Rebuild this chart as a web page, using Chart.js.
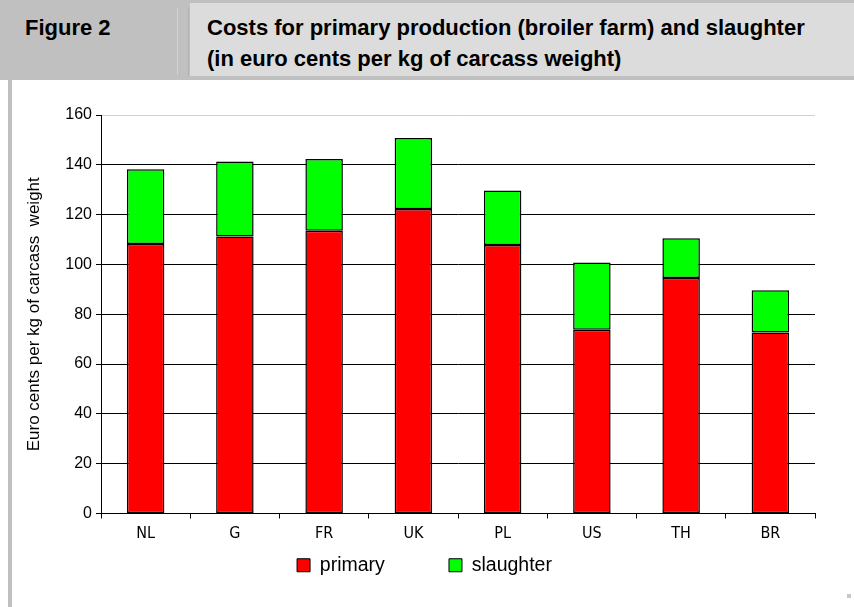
<!DOCTYPE html>
<html lang="en">
<head>
  <meta charset="UTF-8" />
  <title>Figure 2 - Costs for primary production and slaughter</title>
  <script src="https://cdn.jsdelivr.net/npm/chart.js"></script>
  <style>
    * { margin: 0; padding: 0; box-sizing: border-box; }
    html, body {
      width: 854px;
      height: 607px;
      background: #fff;
      overflow: hidden;
      font-family: 'Liberation Sans', Arial, sans-serif;
    }
    /* grey header band */
    #hdr {
      position: absolute;
      left: 0; top: 0;
      width: 854px; height: 80px;
      background: #c0c0c0;
    }
    #fig {
      position: absolute;
      left: 25px; top: 15px;
      font: bold 22px 'Liberation Sans', Arial, sans-serif;
      color: #000;
    }
    .divider {
      position: absolute;
      top: 8px; width: 1px; height: 67px;
    }
    #ttl {
      position: absolute;
      left: 190px; top: 3px;
      width: 664px; height: 73px;
      background: #dcdcdc;
      padding: 9px 0 0 17px;
      font: bold 22px 'Liberation Sans', Arial, sans-serif;
      line-height: 31px;
      color: #000;
    }
    #leftline {
      position: absolute;
      left: 8px; top: 80px;
      width: 4px; height: 527px;
      background: #c0c0c0;
    }
    #dot {
      position: absolute;
      left: 847px; top: 594px;
      width: 4px; height: 4px;
      background: #c8c8c8;
    }
    #wrap {
      position: absolute;
      left: 12px; top: 80px;
      width: 842px; height: 527px;
    }
  </style>
</head>
<body>
  <div id="hdr">
    <div id="fig">Figure 2</div>
    <div class="divider" style="left:177px; background:#d2d2d2;"></div>
    <div class="divider" style="left:188px; background:#b0b0b0;"></div>
  </div>
  <div id="ttl">Costs for primary production (broiler farm) and slaughter<br>(in euro cents per kg of carcass weight)</div>
  <div id="leftline"></div>
  <div id="dot"></div>
  <div id="wrap"><canvas id="chart" width="842" height="527"></canvas></div>

  <script>
    // values (euro cents per kg carcass weight)
    const categories = ['NL', 'G', 'FR', 'UK', 'PL', 'US', 'TH', 'BR'];
    const primary   = [108.2, 111.2, 113.5, 122.3, 107.8, 73.8, 94.6, 72.7];
    const slaughter = [30.0, 30.1, 28.8, 28.5, 21.9, 27.0, 15.9, 16.9];
    const yTicks = [0, 20, 40, 60, 80, 100, 120, 140, 160];

    const narrow = "'Liberation Sans Narrow', 'DejaVu Sans Condensed', sans-serif";
    const regular = "'Liberation Sans', Arial, sans-serif";

    // the legend in the figure sits a little right of the canvas centre
    const legendShift = {
      id: 'legendShift',
      afterLayout(chart) {
        if (chart.legend) {
          chart.legend.left += 11;
          chart.legend.right += 11;
        }
      }
    };

    const ctx = document.getElementById('chart').getContext('2d');
    new Chart(ctx, {
      type: 'bar',
      data: {
        labels: categories,
        datasets: [
          {
            label: 'primary',
            data: primary,
            backgroundColor: '#ff0000',
            borderColor: '#000',
            borderWidth: 1.5,
            borderSkipped: false,
            barPercentage: 0.42,
            categoryPercentage: 1
          },
          {
            label: 'slaughter',
            data: slaughter,
            backgroundColor: '#00ff00',
            borderColor: '#000',
            borderWidth: 1.5,
            borderSkipped: false,
            barPercentage: 0.42,
            categoryPercentage: 1
          }
        ]
      },
      options: {
        responsive: false,
        animation: false,
        layout: { padding: { top: 35, right: 39, left: 0, bottom: 22 } },
        scales: {
          x: {
            stacked: true,
            grid: {
              offset: true,
              drawOnChartArea: false,
              drawTicks: true,
              tickLength: 5,
              color: '#000'
            },
            border: { color: '#000', width: 1 },
            ticks: {
              color: '#000',
              padding: 6,
              font: { family: narrow, size: 16 }
            },
            afterFit: (scale) => { scale.height = 32; }
          },
          y: {
            stacked: true,
            min: 0,
            max: 160,
            afterBuildTicks: (scale) => { scale.ticks = yTicks.map(v => ({ value: v })); },
            grid: {
              color: (c) => c.tick && c.tick.value === 160 ? '#d0d0d0' : '#000',
              tickColor: '#000',
              tickLength: 5
            },
            border: { color: '#000', width: 1 },
            ticks: {
              color: '#000',
              padding: 4,
              font: { family: regular, size: 16 }
            },
            title: {
              display: true,
              text: 'Euro cents per kg of carcass  weight',
              color: '#000',
              font: { family: regular, size: 17 },
              padding: { top: 12, bottom: 0 }
            },
            afterFit: (scale) => { scale.width = 89; }
          }
        },
        plugins: {
          legend: {
            position: 'bottom',
            labels: {
              color: '#000',
              boxWidth: 13,
              boxHeight: 13,
              padding: 10,
              font: { family: regular, size: 19.5 },
              generateLabels: (chart) => {
                const items = Chart.defaults.plugins.legend.labels.generateLabels(chart);
                // extra gap after the first entry, as in the figure
                items[0].text = items[0].text + '          ';
                items.forEach(it => { it.lineWidth = 1; it.strokeStyle = '#000'; });
                return items;
              }
            }
          },
          tooltip: { enabled: false }
        }
      },
      plugins: [legendShift]
    });
  </script>
</body>
</html>
